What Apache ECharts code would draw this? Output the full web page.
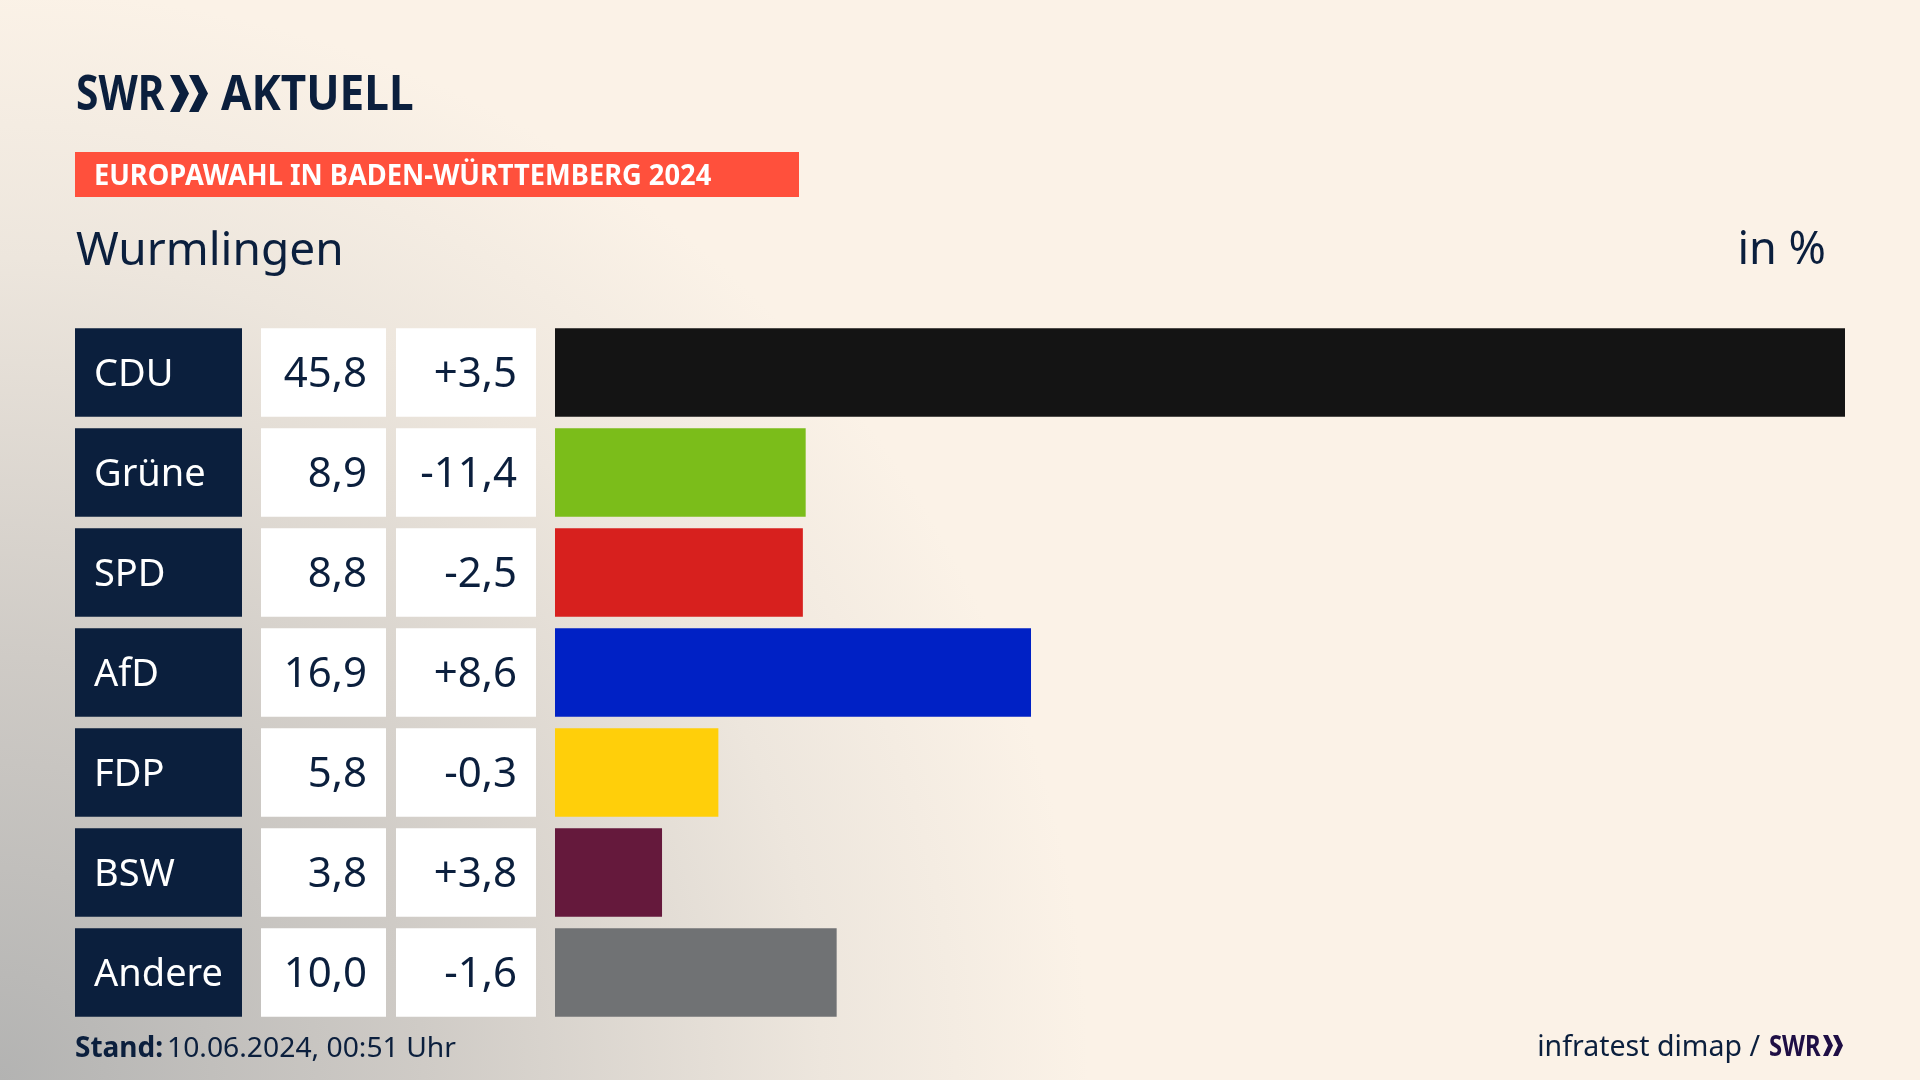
<!DOCTYPE html>
<html>
<head>
<meta charset="utf-8">
<title>Europawahl Wurmlingen</title>
<script src="https://cdn.jsdelivr.net/npm/echarts@6/dist/echarts.min.js"></script>
<style>
  html, body { margin: 0; padding: 0; width: 100%; height: 100%; overflow: hidden; background: #fbf2e7; }
  #chart { width: 1920px; height: 1080px; }
</style>
</head>
<body>
<div id="chart"></div>
<script>
// values
var parties = ["CDU", "Grüne", "SPD", "AfD", "FDP", "BSW", "Andere"];
var shares = [45.8, 8.9, 8.8, 16.9, 5.8, 3.8, 10.0];
var changes = ["+3,5", "-11,4", "-2,5", "+8,6", "-0,3", "+3,8", "-1,6"];
var partyColors = ["#141414", "#7bbd1a", "#d7201e", "#0021c5", "#ffcf0a", "#65193c", "#707274"];

var NAVY = "#0b1f3d";
var FONT = '"Noto Sans"';
var full = parties.map(function () { return 1; });

function deNumber(v) {
  return v.toFixed(1).replace(".", ",");
}

var myecharts = echarts.init(document.getElementById("chart"), null, { renderer: "canvas" });

// one column per grid, all share the same rows
var columns = [
  { left: 75, width: 167 },
  { left: 261, width: 125 },
  { left: 396, width: 140 },
  { left: 555, width: 1290 }
];
var grids = columns.map(function (c) {
  return { left: c.left, width: c.width, top: 322.5, height: 700 };
});
var xAxes = columns.map(function (c, i) {
  return { type: "value", gridIndex: i, min: 0, max: i === 3 ? Math.max.apply(null, shares) : 1, show: false };
});
var yAxes = columns.map(function (c, i) {
  return { type: "category", gridIndex: i, data: parties, inverse: true, show: false };
});

function textColumn(i, color, textColor, position, texts, size) {
  return {
    type: "bar",
    xAxisIndex: i,
    yAxisIndex: i,
    data: full,
    barWidth: 88.5,
    silent: true,
    itemStyle: { color: color },
    label: {
      show: true,
      position: position,
      distance: 19,
      offset: [0, 3],
      color: textColor,
      fontFamily: FONT,
      fontSize: size,
      formatter: function (p) { return texts[p.dataIndex]; }
    }
  };
}

function chevrons(x, y, w, h, color) {
  var out = [];
  var cw = w / 2;
  [0, 1].forEach(function (k) {
    var x0 = x + k * cw;
    out.push({
      type: "polygon",
      silent: true,
      shape: {
        points: [
          [x0, y], [x0 + cw * 0.5, y], [x0 + cw, y + h / 2],
          [x0 + cw * 0.5, y + h], [x0, y + h], [x0 + cw * 0.5, y + h / 2]
        ]
      },
      style: { fill: color }
    });
  });
  return out;
}

// y is the baseline, zrender only knows top so it gets shifted up
function txt(x, y, text, size, weight, color, align, scaleX) {
  return {
    type: "text",
    x: x,
    y: y - size * 0.82,
    scaleX: scaleX || 1,
    silent: true,
    style: {
      text: text,
      fill: color,
      fontFamily: FONT,
      fontSize: size,
      fontWeight: weight,
      align: align || "left",
      verticalAlign: "top"
    }
  };
}

var elements = [
  txt(76, 112, "SWR", 49, 700, NAVY, "left", 0.83),
  txt(221, 112, "AKTUELL", 49, 700, NAVY, "left", 0.9),
  { type: "rect", silent: true, shape: { x: 75, y: 152, width: 724, height: 45 }, style: { fill: "#ff503c" } },
  txt(94, 186, "EUROPAWAHL IN BADEN-WÜRTTEMBERG 2024", 29, 700, "#ffffff", "left", 0.94),
  txt(76, 267, "Wurmlingen", 46, 400, NAVY),
  txt(1826, 266, "in %", 45, 400, NAVY, "right"),
  txt(75, 1058, "Stand:", 28, 700, NAVY, "left", 1),
  txt(167, 1058, "10.06.2024, 00:51 Uhr", 28, 400, NAVY, "left", 1.01),
  txt(1760, 1057, "infratest dimap /", 28.5, 400, NAVY, "right"),
  txt(1769, 1057, "SWR", 29, 700, "#1f0f45", "left", 0.82)
].concat(chevrons(170, 75, 38, 37, NAVY), chevrons(1823, 1035, 20, 21, "#1f0f45"));

myecharts.setOption({
  animation: false,
  // grey corner glow bottom left, rest is the cream tone
  backgroundColor: new echarts.graphic.RadialGradient(0, 1, 1.12, [
    { offset: 0, color: "#b3b3b2" },
    { offset: 0.35, color: "#cfcbc6" },
    { offset: 0.68, color: "#ede6dd" },
    { offset: 0.9, color: "#fbf2e7" },
    { offset: 1, color: "#fbf2e7" }
  ]),
  tooltip: { show: false },
  grid: grids,
  xAxis: xAxes,
  yAxis: yAxes,
  graphic: { elements: elements },
  series: [
    textColumn(0, NAVY, "#ffffff", "insideLeft", parties, 38),
    textColumn(1, "#ffffff", NAVY, "insideRight", shares.map(deNumber), 42),
    textColumn(2, "#ffffff", NAVY, "insideRight", changes, 42),
    {
      type: "bar",
      xAxisIndex: 3,
      yAxisIndex: 3,
      barWidth: 88.5,
      silent: true,
      data: shares.map(function (v, i) {
        return { value: v, itemStyle: { color: partyColors[i] } };
      })
    }
  ]
});

window.addEventListener("resize", function () {
  myecharts && myecharts.resize();
});
</script>
</body>
</html>
